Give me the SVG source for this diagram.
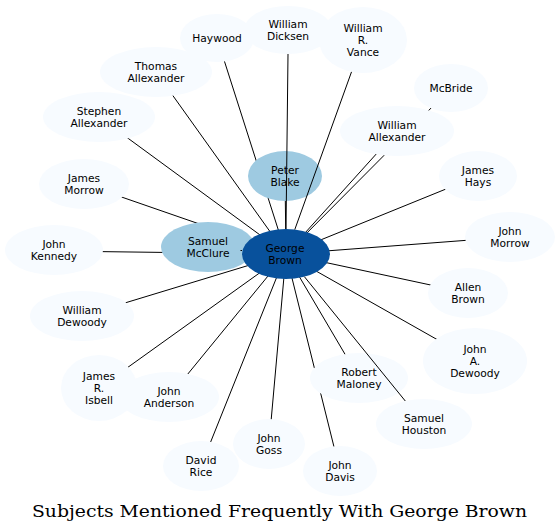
<svg xmlns="http://www.w3.org/2000/svg" width="559" height="532" viewBox="0 0 559 532">
<style>
.e{stroke:#000;stroke-width:1;fill:none}
.n ellipse{fill:#f7fbff;stroke:none}
.m ellipse{fill:#9ecae1}
.c ellipse{fill:#08519c}
text{font-family:"DejaVu Sans",Verdana,sans-serif;font-size:10.7px;text-anchor:middle;fill:#000}
.t{font-family:"DejaVu Serif","Liberation Serif",serif;font-size:16px}
</style>
<rect width="559" height="532" fill="#fff"/>
<g id="edges-under">
<line class="e" x1="286" y1="254" x2="217" y2="38"/>
<line class="e" x1="286" y1="254" x2="156" y2="72"/>
<line class="e" x1="286" y1="254" x2="99" y2="117"/>
<line class="e" x1="286" y1="254" x2="84" y2="184"/>
<line class="e" x1="286" y1="254" x2="54" y2="251"/>
<line class="e" x1="286" y1="254" x2="208" y2="247"/>
<line class="e" x1="286" y1="254" x2="82" y2="316"/>
<line class="e" x1="286" y1="254" x2="99" y2="388"/>
<line class="e" x1="286" y1="254" x2="169" y2="397"/>
<line class="e" x1="286" y1="254" x2="201" y2="466"/>
<line class="e" x1="286" y1="254" x2="269" y2="444"/>
<line class="e" x1="286" y1="254" x2="340" y2="471"/>
<line class="e" x1="286" y1="254" x2="359" y2="378"/>
<line class="e" x1="286" y1="254" x2="475" y2="361"/>
<line class="e" x1="286" y1="254" x2="468" y2="293"/>
<line class="e" x1="286" y1="254" x2="510" y2="237"/>
<line class="e" x1="286" y1="254" x2="478" y2="176"/>
<line class="e" x1="286" y1="254" x2="397" y2="131"/>
<line class="e" x1="286" y1="254" x2="451" y2="88"/>
<line class="e" x1="286" y1="254" x2="285" y2="176"/>
</g>
<g id="haywood" class="n"><ellipse cx="217" cy="38" rx="37" ry="24"/><text x="217" y="41.5">Haywood</text></g>
<g id="william-dicksen" class="n"><ellipse cx="288" cy="30" rx="44" ry="24"/><text x="288" y="27.5">William</text><text x="288" y="39.5">Dicksen</text></g>
<g id="william-r-vance" class="n"><ellipse cx="363" cy="40" rx="44" ry="33"/><text x="363" y="31.5">William</text><text x="363" y="43.5">R.</text><text x="363" y="55.5">Vance</text></g>
<g id="mcbride" class="n"><ellipse cx="451" cy="88" rx="37" ry="24"/><text x="451" y="91.5">McBride</text></g>
<g id="thomas-allexander" class="n"><ellipse cx="156" cy="72" rx="56" ry="25"/><text x="156" y="69.5">Thomas</text><text x="156" y="81.5">Allexander</text></g>
<g id="stephen-allexander" class="n"><ellipse cx="99" cy="117" rx="56" ry="25"/><text x="99" y="114.5">Stephen</text><text x="99" y="126.5">Allexander</text></g>
<g id="william-allexander" class="n"><ellipse cx="397" cy="131" rx="57" ry="25"/><text x="397" y="128.5">William</text><text x="397" y="140.5">Allexander</text></g>
<g id="james-hays" class="n"><ellipse cx="478" cy="176" rx="39" ry="25"/><text x="478" y="173.5">James</text><text x="478" y="185.5">Hays</text></g>
<g id="james-morrow" class="n"><ellipse cx="84" cy="184" rx="45" ry="25"/><text x="84" y="181.5">James</text><text x="84" y="193.5">Morrow</text></g>
<g id="john-kennedy" class="n"><ellipse cx="54" cy="250" rx="49" ry="25"/><text x="54" y="247.5">John</text><text x="54" y="259.5">Kennedy</text></g>
<g id="john-morrow" class="n"><ellipse cx="510" cy="237" rx="45" ry="25"/><text x="510" y="234.5">John</text><text x="510" y="246.5">Morrow</text></g>
<g id="allen-brown" class="n"><ellipse cx="468" cy="293" rx="40" ry="25"/><text x="468" y="290.5">Allen</text><text x="468" y="302.5">Brown</text></g>
<g id="william-dewoody" class="n"><ellipse cx="82" cy="316" rx="52" ry="25"/><text x="82" y="313.5">William</text><text x="82" y="325.5">Dewoody</text></g>
<g id="john-a-dewoody" class="n"><ellipse cx="475" cy="361" rx="52" ry="33"/><text x="475" y="352.5">John</text><text x="475" y="364.5">A.</text><text x="475" y="376.5">Dewoody</text></g>
<g id="james-r-isbell" class="n"><ellipse cx="99" cy="388" rx="38" ry="33"/><text x="99" y="379.5">James</text><text x="99" y="391.5">R.</text><text x="99" y="403.5">Isbell</text></g>
<g id="john-anderson" class="n"><ellipse cx="169" cy="397" rx="50" ry="25"/><text x="169" y="394.5">John</text><text x="169" y="406.5">Anderson</text></g>
<g id="robert-maloney" class="n"><ellipse cx="359" cy="378" rx="49" ry="25"/><text x="359" y="375.5">Robert</text><text x="359" y="387.5">Maloney</text></g>
<g id="samuel-houston" class="n"><ellipse cx="424" cy="424" rx="48" ry="25"/><text x="424" y="421.5">Samuel</text><text x="424" y="433.5">Houston</text></g>
<g id="david-rice" class="n"><ellipse cx="201" cy="466" rx="38" ry="25"/><text x="201" y="463.5">David</text><text x="201" y="475.5">Rice</text></g>
<g id="john-goss" class="n"><ellipse cx="269" cy="444" rx="36" ry="25"/><text x="269" y="441.5">John</text><text x="269" y="453.5">Goss</text></g>
<g id="john-davis" class="n"><ellipse cx="340" cy="471" rx="37" ry="25"/><text x="340" y="468.5">John</text><text x="340" y="480.5">Davis</text></g>
<g id="peter-blake" class="n m"><ellipse cx="285" cy="176" rx="37" ry="25"/><text x="285" y="173.5">Peter</text><text x="285" y="185.5">Blake</text></g>
<g id="samuel-mcclure" class="n m"><ellipse cx="208" cy="247" rx="47" ry="25"/><text x="208" y="244.5">Samuel</text><text x="208" y="256.5">McClure</text></g>
<g id="george-brown" class="n c"><ellipse cx="286" cy="254" rx="44" ry="25"/><text x="285" y="251.5">George</text><text x="285" y="263.5">Brown</text></g>
<g id="edges-over">
<line class="e" x1="286" y1="229" x2="288" y2="54"/>
<line class="e" x1="294.8" y1="229.5" x2="351.5" y2="71.9"/>
<line class="e" x1="304.4" y1="276.7" x2="405.3" y2="401"/>
<line class="e" x1="240.5" y1="250.5" x2="242" y2="250.5"/>
</g>
<text class="t" x="279.5" y="517" textLength="495" lengthAdjust="spacingAndGlyphs">Subjects Mentioned Frequently With George Brown</text>
</svg>
